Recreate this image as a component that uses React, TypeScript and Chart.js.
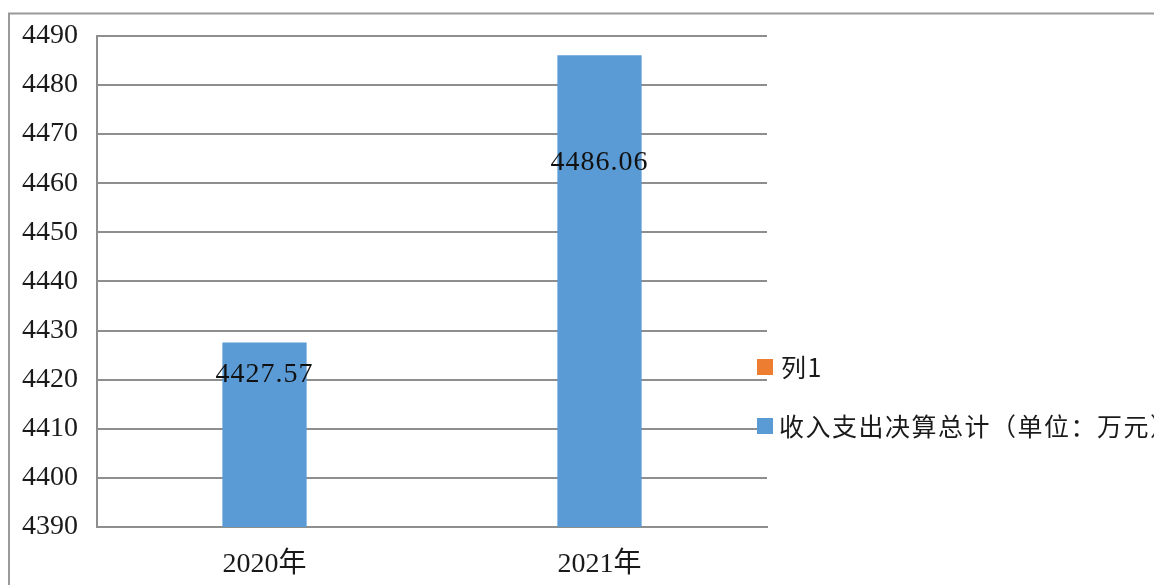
import React, { useEffect, useRef } from "react";
import { Chart, registerables } from "chart.js";

Chart.register(...registerables);

const categories = ["2020年", "2021年"];
const series1Name = "列1";
const series1Values: (number | null)[] = [null, null];
const series2Name = "收入支出决算总计（单位：万元）";
const series2Values = [4427.57, 4486.06];
const series2Labels = ["4427.57", "4486.06"];
const yMin = 4390;
const yMax = 4490;
const yStep = 10;

const SERIF = '"Liberation Serif", "Noto Sans CJK SC", serif';
const CJK = '"Noto Sans CJK SC", "Liberation Serif", sans-serif';
const GRID = "#8e8e8e";

const framePlugin = {
  id: "frame",
  beforeDraw(chart: any) {
    const ctx = chart.ctx;
    ctx.save();
    ctx.fillStyle = "#ffffff";
    ctx.fillRect(0, 0, chart.width, chart.height);
    ctx.strokeStyle = "#9a9a9a";
    ctx.lineWidth = 2;
    ctx.beginPath();
    ctx.moveTo(9, chart.height + 10);
    ctx.lineTo(9, 13.5);
    ctx.lineTo(chart.width + 10, 13.5);
    ctx.stroke();
    ctx.restore();
  },
};

const labelPlugin = {
  id: "barLabels",
  afterDatasetsDraw(chart: any, _args: any, opts: any) {
    const ctx = chart.ctx;
    const meta = chart.getDatasetMeta(1);
    ctx.save();
    ctx.font = `28px ${SERIF}`;
    (ctx as any).letterSpacing = "1px";
    ctx.fillStyle = "#111111";
    ctx.textAlign = "center";
    ctx.textBaseline = "middle";
    meta.data.forEach((bar: any, i: number) => {
      const off = (opts.offsets && opts.offsets[i]) || 0;
      ctx.fillText(series2Labels[i], bar.x, bar.y + off);
    });
    ctx.restore();
  },
};

const legendPlugin = {
  id: "customLegend",
  afterDraw(chart: any, _args: any, opts: any) {
    const ctx = chart.ctx;
    ctx.save();
    chart.data.datasets.forEach((ds: any, i: number) => {
      const item = opts.items[i];
      ctx.fillStyle = ds.backgroundColor;
      ctx.fillRect(item.boxX, item.y - 8, 16, 16);
      ctx.font = `25px ${CJK}`;
      (ctx as any).letterSpacing = "1.5px";
      ctx.fillStyle = "#1a1a1a";
      ctx.textAlign = "left";
      ctx.textBaseline = "middle";
      ctx.fillText(ds.label, item.textX, item.y);
    });
    ctx.restore();
  },
};

export default function App() {
  const ref = useRef<HTMLCanvasElement | null>(null);

  useEffect(() => {
    if (!ref.current) return;
    const chart = new Chart(ref.current, {
      type: "bar",
      data: {
        labels: categories,
        datasets: [
          {
            label: series1Name,
            data: series1Values,
            backgroundColor: "#ED7D31",
            grouped: false,
            barPercentage: 0.2515,
            categoryPercentage: 1,
          } as any,
          {
            label: series2Name,
            data: series2Values,
            backgroundColor: "#5B9BD5",
            grouped: false,
            barPercentage: 0.2515,
            categoryPercentage: 1,
          } as any,
        ],
      },
      plugins: [framePlugin, labelPlugin, legendPlugin],
      options: {
        animation: false,
        responsive: false,
        devicePixelRatio: 1,
        layout: { padding: { left: 0, right: 533, top: 34, bottom: 33 } },
        plugins: {
          legend: { display: false },
          tooltip: { enabled: false },
          barLabels: { offsets: [32, 107] },
          customLegend: {
            items: [
              { boxX: 757, textX: 781, y: 367 },
              { boxX: 757, textX: 779, y: 426 },
            ],
          },
        } as any,
        scales: {
          x: {
            grid: { display: false, drawTicks: false },
            border: { display: true, color: GRID, width: 2 },
            ticks: {
              font: { family: SERIF, size: 28 },
              color: "#1a1a1a",
              padding: 21,
            },
            afterFit: (s: any) => {
              s.height = 60;
            },
          },
          y: {
            min: yMin,
            max: yMax,
            grid: { color: GRID, lineWidth: 2, drawTicks: false },
            border: { display: true, color: GRID, width: 2 },
            ticks: {
              stepSize: yStep,
              font: { family: SERIF, size: 28 },
              color: "#1a1a1a",
              padding: 19,
              callback: (v: any) => String(v),
            },
            afterFit: (s: any) => {
              s.width = 97;
            },
          },
        },
      },
    });
    return () => chart.destroy();
  }, []);

  return (
    <div
      style={{
        position: "fixed",
        left: 0,
        top: 0,
        width: 1154,
        height: 585,
        overflow: "hidden",
        background: "#fff",
      }}
    >
      <canvas ref={ref} width={1300} height={620} style={{ display: "block" }} />
    </div>
  );
}
